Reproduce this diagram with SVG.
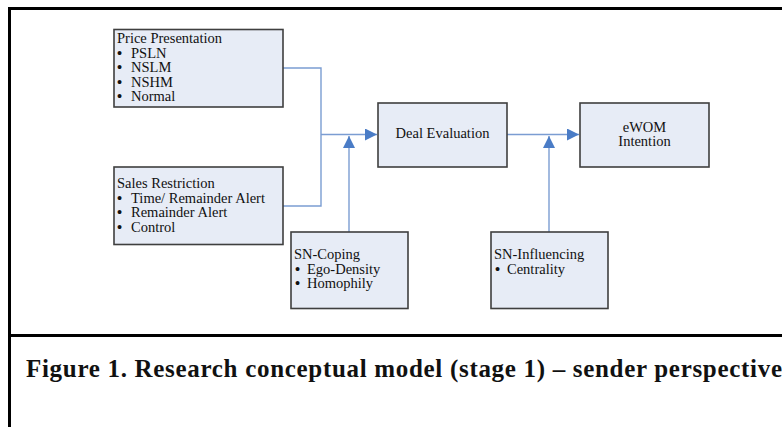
<svg xmlns="http://www.w3.org/2000/svg" width="782" height="427" viewBox="0 0 782 427">
<style>
.box{fill:#E7ECF6;stroke:#3F3F3F;stroke-width:1.6}
.t{font-family:"Liberation Serif","Times New Roman",serif;font-size:14.5px;fill:#111}
.b{font-weight:bold}
.c{stroke:#7B9DD2;stroke-width:1.4;fill:none}
.frame{stroke:#000;stroke-width:3;fill:none}
.cap{font-family:"Liberation Serif","Times New Roman",serif;font-size:25px;font-weight:bold;fill:#111}
</style>
<defs>
<marker id="ah" markerUnits="userSpaceOnUse" markerWidth="12" markerHeight="12" viewBox="0 0 10 10" refX="10" refY="5" orient="auto">
<path d="M0,0 L10,5 L0,10 Z" fill="#4A7CC6"/>
</marker>
</defs>
<rect width="782" height="427" fill="#fff"/>
<g id="frame">
<path class="frame" d="M9.5,427 V8.5 H782"/>
<path class="frame" d="M9.5,335.5 H782"/>
</g>
<g id="connectors">
<path class="c" d="M283,68 H321 V206 H283"/>
<path class="c" d="M321,134.5 H377" marker-end="url(#ah)"/>
<path class="c" d="M349,232 V136" marker-end="url(#ah)"/>
<path class="c" d="M507,134.5 H579" marker-end="url(#ah)"/>
<path class="c" d="M549,232 V136" marker-end="url(#ah)"/>
</g>
<g id="price">
<rect class="box" x="114" y="29.5" width="169" height="77.5"/>
<text class="t" x="117" y="43">Price Presentation</text>
<text class="t" x="117" y="57.5"><tspan class="b">•</tspan><tspan x="131">PSLN</tspan></text>
<text class="t" x="117" y="72"><tspan class="b">•</tspan><tspan x="131">NSLM</tspan></text>
<text class="t" x="117" y="86.5"><tspan class="b">•</tspan><tspan x="131">NSHM</tspan></text>
<text class="t" x="117" y="101"><tspan class="b">•</tspan><tspan x="131">Normal</tspan></text>
</g>
<g id="sales">
<rect class="box" x="114" y="167" width="169" height="77.5"/>
<text class="t" x="117" y="188">Sales Restriction</text>
<text class="t" x="117" y="202.5"><tspan class="b">•</tspan><tspan x="131">Time/ Remainder Alert</tspan></text>
<text class="t" x="117" y="217"><tspan class="b">•</tspan><tspan x="131">Remainder Alert</tspan></text>
<text class="t" x="117" y="231.5"><tspan class="b">•</tspan><tspan x="131">Control</tspan></text>
</g>
<g id="deal">
<rect class="box" x="378" y="103" width="129" height="64"/>
<text class="t" x="442.5" y="138" text-anchor="middle">Deal Evaluation</text>
</g>
<g id="ewom">
<rect class="box" x="580" y="103" width="129" height="64"/>
<text class="t" x="644.5" y="131.5" text-anchor="middle">eWOM</text>
<text class="t" x="644.5" y="146" text-anchor="middle">Intention</text>
</g>
<g id="sncoping">
<rect class="box" x="291" y="232" width="117" height="76.5"/>
<text class="t" x="294" y="259">SN-Coping</text>
<text class="t" x="295" y="273.5"><tspan class="b">•</tspan><tspan x="307">Ego-Density</tspan></text>
<text class="t" x="295" y="288"><tspan class="b">•</tspan><tspan x="307">Homophily</tspan></text>
</g>
<g id="sninfluencing">
<rect class="box" x="491" y="232" width="117" height="76.5"/>
<text class="t" x="494" y="259">SN-Influencing</text>
<text class="t" x="495" y="273.5"><tspan class="b">•</tspan><tspan x="507">Centrality</tspan></text>
</g>
<text class="cap" x="26" y="377" textLength="756" lengthAdjust="spacing">Figure 1. Research conceptual model (stage 1) – sender perspective</text>
</svg>
